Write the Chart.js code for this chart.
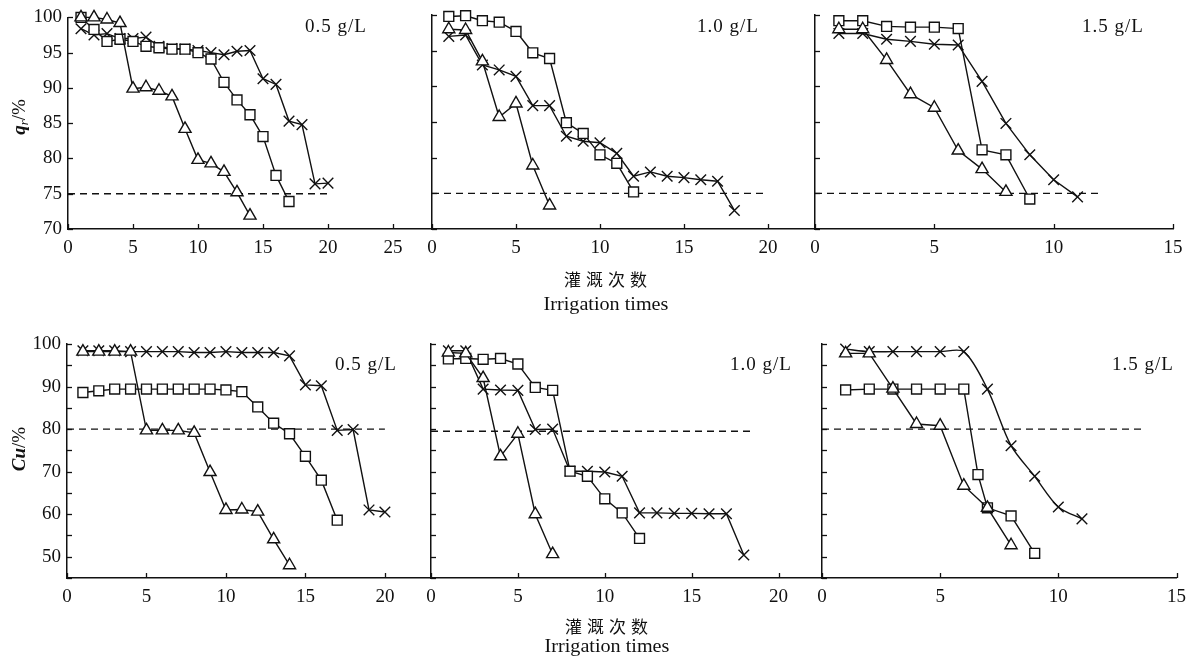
<!DOCTYPE html>
<html><head><meta charset="utf-8">
<script src="https://cdn.jsdelivr.net/npm/chart.js@4.4.1/dist/chart.umd.min.js"></script>
<style>
html,body{margin:0;padding:0;background:#fff}
#wrap{position:relative;width:1194px;height:659px;overflow:hidden;background:#fff}
canvas{position:absolute;left:0;top:0}
.lbl{position:absolute;font-family:"Liberation Serif",serif;color:#111;white-space:nowrap;line-height:1;letter-spacing:1px}
.cn{position:absolute;font-family:"Noto Sans CJK SC",sans-serif;color:#111;white-space:nowrap;line-height:1;font-size:17px;letter-spacing:5px;transform:translateX(-50%)}
.en{position:absolute;font-family:"Liberation Serif",serif;color:#111;white-space:nowrap;line-height:1;font-size:18px;transform:translateX(-50%) scaleX(1.12)}
.yt{position:absolute;font-family:"Liberation Serif",serif;color:#111;white-space:nowrap;line-height:1;font-size:19px;transform:translate(-50%,-50%) rotate(-90deg)}
.yt sub{font-size:13px;vertical-align:-3px}
</style></head><body><div id="wrap">
<canvas id="p0" width="1194" height="659"></canvas>
<canvas id="p1" width="1194" height="659"></canvas>
<canvas id="p2" width="1194" height="659"></canvas>
<canvas id="p3" width="1194" height="659"></canvas>
<canvas id="p4" width="1194" height="659"></canvas>
<canvas id="p5" width="1194" height="659"></canvas>

<div class="lbl" style="left:305px;top:16px;font-size:19px">0.5 g/L</div>
<div class="lbl" style="left:697px;top:16px;font-size:19px">1.0 g/L</div>
<div class="lbl" style="left:1082px;top:16px;font-size:19px">1.5 g/L</div>
<div class="lbl" style="left:335px;top:354px;font-size:19px">0.5 g/L</div>
<div class="lbl" style="left:730px;top:354px;font-size:19px">1.0 g/L</div>
<div class="lbl" style="left:1112px;top:354px;font-size:19px">1.5 g/L</div>

<div class="cn" style="left:608px;top:270px">灌溉次数</div>
<div class="en" style="left:606px;top:295px">Irrigation times</div>
<div class="cn" style="left:609px;top:617px">灌溉次数</div>
<div class="en" style="left:607px;top:637px">Irrigation times</div>

<div class="yt" style="left:19px;top:117px"><b><i>q</i></b><i><sub>r</sub></i>/%</div>
<div class="yt" style="left:18px;top:449px"><b><i>Cu</i></b>/%</div>
</div>
<script>
// ---------- data: q_r (%) ----------
const qr05TriX = [1,2,3,4,5,6,7,8,9,10,11,12,13,14];
const qr05Tri  = [100,100,99.7,99.2,89.9,90.1,89.6,88.8,84.2,79.8,79.3,78.1,75.2,71.9];
const qr05SqX  = [1,2,3,4,5,6,7,8,9,10,11,12,13,14,15,16,17];
const qr05Sq   = [100,98.3,96.6,96.9,96.6,95.9,95.7,95.5,95.5,95.0,94.1,90.8,88.3,86.2,83.1,77.6,73.9];
const qr05CrX  = [1,2,3,4,5,6,7,8,9,10,11,12,13,14,15,16,17,18,19,20];
const qr05Cr   = [98.4,97.5,97.7,97.0,97.0,97.2,95.9,95.6,95.5,95.3,95.0,94.7,95.2,95.3,91.3,90.5,85.3,84.8,76.4,76.5];

const qr10SqX  = [1,2,3,4,5,6,7,8,9,10,11,12];
const qr10Sq   = [99.8,99.9,99.2,99.0,97.7,94.7,93.9,84.9,83.4,80.4,79.2,75.2];
const qr10TriX = [1,2,3,4,5,6,7];
const qr10Tri  = [98.0,97.9,93.5,85.7,87.6,78.9,73.3];
const qr10CrX  = [1,2,3,4,5,6,7,8,9,10,11,12,13,14,15,16,17,18];
const qr10Cr   = [97.0,97.2,93.0,92.3,91.4,87.3,87.3,83.0,82.3,82.1,80.6,77.4,78.0,77.4,77.2,76.9,76.7,72.6];

const qr15SqX  = [1,2,3,4,5,6,7,8,9];
const qr15Sq   = [99.2,99.2,98.4,98.3,98.3,98.1,81.1,80.4,74.2];
const qr15CrX  = [1,2,3,4,5,6,7,8,9,10,11];
const qr15Cr   = [97.4,97.4,96.6,96.3,95.9,95.8,90.7,84.8,80.4,76.9,74.5];
const qr15TriX = [1,2,3,4,5,6,7,8];
const qr15Tri  = [98.0,98.0,93.7,88.9,87.0,81.0,78.4,75.2];

// ---------- data: Cu (%) ----------
const cu05TriX = [1,2,3,4,5,6,7,8,9,10,11,12,13,14];
const cu05Tri  = [98.2,98.2,98.2,98.2,79.7,79.7,79.7,79.1,69.9,61.0,61.1,60.6,54.1,48.0];
const cu05SqX  = [1,2,3,4,5,6,7,8,9,10,11,12,13,14,15,16,17];
const cu05Sq   = [88.6,89.0,89.4,89.4,89.4,89.4,89.4,89.4,89.4,89.2,88.8,85.2,81.4,78.9,73.6,68.0,58.6];
const cu05CrX  = [1,2,3,4,5,6,7,8,9,10,11,12,13,14,15,16,17,18,19,20];
const cu05Cr   = [98.4,98.4,98.4,98.2,98.2,98.2,98.2,98.0,98.0,98.2,98.0,98.0,98.0,97.2,90.4,90.2,79.7,79.9,61.0,60.5];

const cu10SqX  = [1,2,3,4,5,6,7,8,9,10,11,12];
const cu10Sq   = [96.5,96.6,96.4,96.6,95.3,89.8,89.1,70.1,68.9,63.6,60.3,54.3];
const cu10TriX = [1,2,3,4,5,6,7];
const cu10Tri  = [98.0,97.8,92.0,73.6,78.9,60.0,50.6];
const cu10CrX  = [1,2,3,4,5,6,7,8,9,10,11,12,13,14,15,16,17,18];
const cu10Cr   = [98.4,98.4,89.4,89.2,89.1,79.9,80.0,70.1,70.1,69.9,68.9,60.3,60.3,60.2,60.2,60.1,60.1,50.4];

const cu15CrX  = [1,2,3,4,5,6,7,8,9,10,11];
const cu15Cr   = [98.8,98.2,98.2,98.2,98.2,98.2,89.4,76.1,68.9,61.7,58.9];
const cu15SqX  = [1,2,3,4,5,6,6.6,7,8,9];
const cu15Sq   = [89.2,89.4,89.4,89.4,89.4,89.4,69.3,61.5,59.6,50.8];
const cu15TriX = [1,2,3,4,5,6,7,8];
const cu15Tri  = [97.8,97.8,89.5,81.2,80.8,66.7,61.5,52.7];

// ---------- threshold lines ----------
const qrLimit = 75;
const qrLimitX = [[0,20],[0,20],[0,12]];
const cuLimit = [80, 79.5, 80];
const cuLimitX = [[0,20],[0,18.5],[0,13.6]];

// ---------- ticks ----------
const qrTicks = {min:70, max:100, step:5};
const cuTicks = {min:45, max:100, step:5, labelEvery:10};

// ---------- helpers ----------
const pts = (xs, vs) => xs.map((x,i)=>({x, y: vs[i]}));
const PAGE_W = 1194, PAGE_H = 659;
const TICK_FONT = {family:'"Liberation Serif", serif', size:19};

const inwardTicks = {
  id:'inwardTicks',
  beforeDatasetsDraw(chart){
    const ctx = chart.ctx, sx = chart.scales.x, sy = chart.scales.y, len = 5;
    ctx.save(); ctx.strokeStyle = '#111'; ctx.lineWidth = 1.3;
    sx.ticks.forEach(t => {
      const p = Math.round(sx.getPixelForValue(t.value)) + 0.5;
      ctx.beginPath(); ctx.moveTo(p, sx.top); ctx.lineTo(p, sx.top - len); ctx.stroke();
    });
    sy.ticks.forEach(t => {
      const p = Math.round(sy.getPixelForValue(t.value)) + 0.5;
      ctx.beginPath(); ctx.moveTo(sy.right, p); ctx.lineTo(sy.right + len, p); ctx.stroke();
    });
    ctx.restore();
  }
};

function series(data, style, radius, tension){
  return {
    data, showLine:true, borderColor:'#111', borderWidth:1.4, tension: tension||0,
    pointStyle:style, pointRadius:radius, pointBackgroundColor:'#fff',
    pointBorderColor:'#111', pointBorderWidth:1.4, clip:false
  };
}
function limitLine(xs, v){
  return {
    data: xs.map(x=>({x, y:v})), showLine:true, borderColor:'#111', borderWidth:1.4,
    borderDash:[7,5], pointRadius:0, clip:false
  };
}

function panel(id, area, xMax, yt, showYLabels, datasets){
  const yW = area.left, xH = PAGE_H - area.bottom;
  new Chart(document.getElementById(id), {
    type:'scatter',
    data:{datasets},
    options:{
      responsive:false, animation:false, events:[],
      layout:{padding:{left:0, top:area.top, right:PAGE_W-area.right, bottom:0}},
      plugins:{legend:{display:false}, tooltip:{enabled:false}},
      scales:{
        x:{type:'linear', min:0, max:xMax,
           ticks:{stepSize:5, includeBounds:false, autoSkip:false, maxRotation:0, color:'#111', font:TICK_FONT, padding:8},
           grid:{display:false, drawTicks:false},
           border:{display:true, color:'#111', width:1.5},
           afterFit:s=>{s.height=xH;}},
        y:{type:'linear', min:yt.min, max:yt.max,
           ticks:{stepSize:yt.step, includeBounds:false, autoSkip:false, display:showYLabels, color:'#111', font:TICK_FONT, padding:6,
                  callback:v=> (yt.labelEvery && v % yt.labelEvery !== 0) ? '' : v},
           grid:{display:false, drawTicks:false},
           border:{display:true, color:'#111', width:1.5},
           afterFit:s=>{s.width=yW;}}
      }
    },
    plugins:[inwardTicks]
  });
}

const TOP = {top:15, bottom:229};
const BOT = {top:344, bottom:578};
const R_TRI = 7, R_SQ = 7, R_CR = 7.5;

panel('p0', {left:68, right:432, ...TOP}, 28, qrTicks, true, [
  series(pts(qr05TriX, qr05Tri), 'triangle', R_TRI),
  series(pts(qr05SqX, qr05Sq), 'rect', R_SQ),
  series(pts(qr05CrX, qr05Cr), 'crossRot', R_CR),
  limitLine(qrLimitX[0], qrLimit)
]);
panel('p1', {left:432, right:815, ...TOP}, 22.8, qrTicks, false, [
  series(pts(qr10TriX, qr10Tri), 'triangle', R_TRI),
  series(pts(qr10SqX, qr10Sq), 'rect', R_SQ),
  series(pts(qr10CrX, qr10Cr), 'crossRot', R_CR),
  limitLine(qrLimitX[1], qrLimit)
]);
panel('p2', {left:815, right:1173, ...TOP}, 15, qrTicks, false, [
  series(pts(qr15TriX, qr15Tri), 'triangle', R_TRI),
  series(pts(qr15SqX, qr15Sq), 'rect', R_SQ),
  series(pts(qr15CrX, qr15Cr), 'crossRot', R_CR),
  limitLine(qrLimitX[2], qrLimit)
]);
panel('p3', {left:67, right:431, ...BOT}, 22.9, cuTicks, true, [
  series(pts(cu05TriX, cu05Tri), 'triangle', R_TRI),
  series(pts(cu05SqX, cu05Sq), 'rect', R_SQ),
  series(pts(cu05CrX, cu05Cr), 'crossRot', R_CR),
  limitLine(cuLimitX[0], cuLimit[0])
]);
panel('p4', {left:431, right:822, ...BOT}, 22.5, cuTicks, false, [
  series(pts(cu10TriX, cu10Tri), 'triangle', R_TRI),
  series(pts(cu10SqX, cu10Sq), 'rect', R_SQ),
  series(pts(cu10CrX, cu10Cr), 'crossRot', R_CR),
  limitLine(cuLimitX[1], cuLimit[1])
]);
panel('p5', {left:822, right:1177, ...BOT}, 15, cuTicks, false, [
  series(pts(cu15TriX, cu15Tri), 'triangle', R_TRI),
  series(pts(cu15SqX, cu15Sq), 'rect', R_SQ),
  series(pts(cu15CrX, cu15Cr), 'crossRot', R_CR, 0.3),
  limitLine(cuLimitX[2], cuLimit[2])
]);
</script>
</body></html>
